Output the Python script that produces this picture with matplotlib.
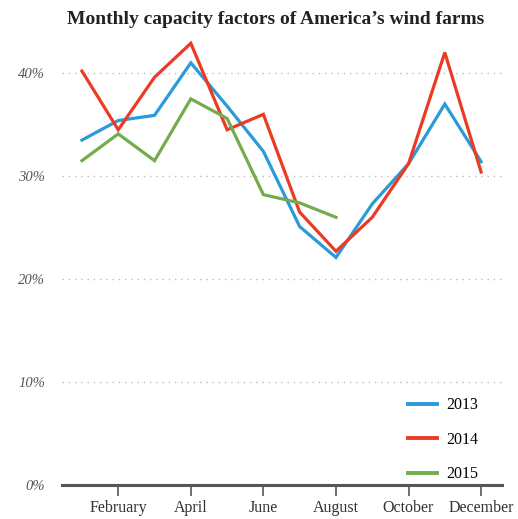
import matplotlib
matplotlib.use("Agg")
import matplotlib.pyplot as plt

months = list(range(1, 13))
tick_months = [2, 4, 6, 8, 10, 12]
tick_labels = ["February", "April", "June", "August", "October", "December"]
y_ticks = [0, 10, 20, 30, 40]
y_labels = ["0%", "10%", "20%", "30%", "40%"]

cf_2013 = [33.5, 35.4, 35.9, 41.0, 36.8, 32.4, 25.1, 22.1, 27.3, 31.2, 37.0, 31.4]
cf_2014 = [40.2, 34.5, 39.6, 42.9, 34.5, 36.0, 26.5, 22.7, 26.0, 31.2, 42.0, 30.4]
cf_2015 = [31.5, 34.1, 31.5, 37.5, 35.6, 28.2, 27.4, 26.0]

colors = {"2013": "#2a9bd8", "2014": "#ec3b24", "2015": "#72ac4d"}

plt.rcParams["font.family"] = ["Liberation Serif", "DejaVu Serif"]

fig = plt.figure(figsize=(5.18, 5.19), dpi=100)
ax = fig.add_axes([0.1197, 0.0655, 0.849, 0.863])

for yr, vals in (("2013", cf_2013), ("2014", cf_2014), ("2015", cf_2015)):
    ax.plot(months[:len(vals)], vals, color=colors[yr], lw=2.3, label=yr,
            solid_joinstyle="miter", clip_on=False, zorder=3)

ax.set_xlim(0.45, 12.57)
ax.set_ylim(0, 43.5)
for v in y_ticks[1:]:
    ax.axhline(v, color="#bbbbbb", lw=1.0, ls=(0, (1, 3.5)), zorder=1,
               xmax=1.006, clip_on=False)

ax.set_yticks(y_ticks)
ax.set_yticklabels(y_labels, fontsize=10.5, style="italic", color="#555555")
ax.tick_params(axis="y", length=0, pad=12)
ax.set_xticks(tick_months)
ax.set_xticklabels(tick_labels, fontsize=11.5, color="#333333")
ax.tick_params(axis="x", length=8, width=1.2, color="#555555", pad=3, direction="out")

for s in ("top", "right", "left"):
    ax.spines[s].set_visible(False)
ax.spines["bottom"].set_color("#555555")
ax.spines["bottom"].set_linewidth(2.2)

leg = ax.legend(loc="lower left", bbox_to_anchor=(0.755, -0.026), frameon=False,
                fontsize=11.5, labelspacing=1.16, handlelength=1.8,
                handletextpad=0.6)
for line in leg.get_lines():
    line.set_linewidth(2.8)

fig.text(0.532, 0.963, "Monthly capacity factors of America\u2019s wind farms",
         ha="center", va="center", fontsize=14, fontweight="bold", color="#222222")

fig.savefig("out.png", dpi=100)
